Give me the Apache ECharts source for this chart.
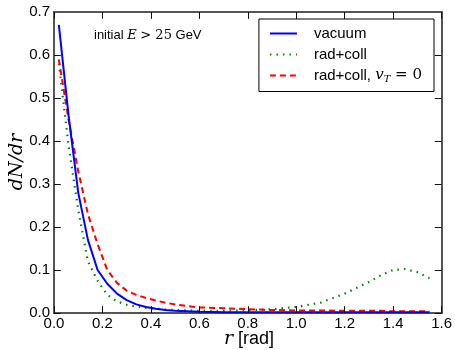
<!DOCTYPE html>
<html><head><meta charset="utf-8">
<script src="https://cdn.jsdelivr.net/npm/echarts@6/dist/echarts.min.js"></script>
<style>html,body{margin:0;padding:0;background:#fff}#c{width:455px;height:350px}</style>
</head><body><div id="c"></div>
<script>
const r = [0.02,0.06,0.10,0.14,0.18,0.22,0.26,0.30,0.34,0.38,0.42,0.46,0.50,0.55,0.60,0.70,0.80,0.90,1.00,1.10,1.20,1.30,1.35,1.40,1.45,1.50,1.55];
const vacuum = [0.67,0.46,0.28,0.17,0.10,0.068,0.045,0.030,0.020,0.014,0.010,0.007,0.005,0.004,0.003,0.002,0.002,0.002,0.002,0.002,0.002,0.002,0.002,0.002,0.002,0.002,0.002];
const radColl = [0.58,0.39,0.24,0.12,0.075,0.042,0.027,0.019,0.015,0.012,0.010,0.008,0.007,0.006,0.005,0.005,0.006,0.009,0.014,0.024,0.045,0.072,0.088,0.100,0.102,0.095,0.081];
const radCollV0 = [0.59,0.45,0.33,0.23,0.16,0.10,0.07,0.052,0.042,0.035,0.029,0.024,0.020,0.016,0.013,0.011,0.009,0.007,0.006,0.006,0.005,0.005,0.005,0.004,0.004,0.004,0.004];
const names = ['vacuum','rad+coll','rad+coll, vT=0'];
const xTicks = ['0.0','0.2','0.4','0.6','0.8','1.0','1.2','1.4','1.6'];
const yTicks = ['0.0','0.1','0.2','0.3','0.4','0.5','0.6','0.7'];

const pairs = a => r.map((x,i)=>[x,a[i]]);
const axisCol = '#555';
const font = 'Liberation Sans, Arial, sans-serif';
const chart = echarts.init(document.getElementById('c'));
function baseX(){ return {type:'value',min:0,max:1.6,interval:0.2,
  axisLine:{show:true,onZero:false,lineStyle:{color:axisCol,width:2}},
  axisTick:{show:false}, splitLine:{show:false}}; }
function baseY(){ return {type:'value',min:0,max:0.7,interval:0.1,
  axisLine:{show:true,onZero:false,lineStyle:{color:axisCol,width:2}},
  axisTick:{show:false}, splitLine:{show:false}}; }
// inward tick marks, expressed in data units so the chart's own scales place them
const tx = 0.028, ty = 0.016;
const tickLines = [];
xTicks.forEach((t,i)=>{ const v=i*0.2;
  tickLines.push([{coord:[v,0]},{coord:[v,ty]}]);
  tickLines.push([{coord:[v,0.7]},{coord:[v,0.7-ty]}]); });
yTicks.forEach((t,i)=>{ const v=i*0.1;
  tickLines.push([{coord:[0,v]},{coord:[tx,v]}]);
  tickLines.push([{coord:[1.6,v]},{coord:[1.6-tx,v]}]); });
chart.setOption({
  animation:false,
  backgroundColor:'#fff',
  grid:{left:54,right:12,top:12,bottom:37},
  xAxis:[
    Object.assign(baseX(),{position:'bottom',axisLabel:{color:'#000',fontSize:15,fontFamily:font,margin:3,formatter:v=>xTicks[Math.round(v/0.2)]}}),
    Object.assign(baseX(),{position:'top',axisLabel:{show:false}})
  ],
  yAxis:[
    Object.assign(baseY(),{position:'left',axisLabel:{color:'#000',fontSize:15,fontFamily:font,margin:4,formatter:v=>yTicks[Math.round(v/0.1)]}}),
    Object.assign(baseY(),{position:'right',axisLabel:{show:false}})
  ],
  legend:{
    right:21,top:19,orient:'vertical',
    backgroundColor:'#fff',borderColor:'#000',borderWidth:1,borderRadius:0,
    padding:[7,12,7,10],itemGap:6,itemWidth:27,itemHeight:14,
    itemStyle:{opacity:0},
    textStyle:{fontSize:15,fontFamily:font,color:'#000',padding:[0,0,0,12],
      rich:{i:{fontStyle:'italic',fontFamily:'DejaVu Serif, serif',fontSize:15},
            s:{fontStyle:'italic',fontFamily:'DejaVu Serif, serif',fontSize:10,padding:[8,0,0,0]},
            n:{fontFamily:'DejaVu Serif, serif',fontSize:15}}},
    formatter:n=> n==='rad+coll, vT=0' ? 'rad+coll, {i|v}{s|T}{n| = 0}' : n,
    data:names.map(n=>({name:n}))
  },
  graphic:[
    {type:'text',left:94,top:29,style:{text:'initial {i|E} {n|> 25} GeV',fontSize:13,fontFamily:font,fill:'#000',
      rich:{i:{fontStyle:'italic',fontFamily:'DejaVu Serif, serif',fontSize:13},n:{fontFamily:'DejaVu Serif, serif',fontSize:13}}}},
    {type:'text',x:17,y:162,rotation:Math.PI/2,style:{text:'dN/dr',fontSize:19,fontStyle:'italic',fontFamily:'DejaVu Serif, serif',fill:'#000',align:'center',verticalAlign:'middle'}},
    {type:'text',x:249,y:339,style:{text:'{i|r} [rad]',fontSize:18,fontFamily:font,fill:'#000',align:'center',verticalAlign:'middle',
      rich:{i:{fontStyle:'italic',fontFamily:'DejaVu Serif, serif',fontSize:19}}}}
  ],
  series:[
    {name:names[0],type:'line',data:pairs(vacuum),symbol:'none',lineStyle:{color:'#0000ff',width:2},itemStyle:{color:'#0000ff'},z:3,
      markLine:{silent:true,symbol:['none','none'],label:{show:false},animation:false,
        lineStyle:{color:'#111',width:1,type:'solid'},emphasis:{disabled:true},data:tickLines}},
    {name:names[1],type:'line',data:pairs(radColl),symbol:'none',lineStyle:{color:'#008000',width:2.2,type:[1.5,5]},itemStyle:{color:'#008000'},z:2},
    {name:names[2],type:'line',data:pairs(radCollV0),symbol:'none',lineStyle:{color:'#ff0000',width:2,type:[6,4]},itemStyle:{color:'#ff0000'},z:2}
  ]
});
</script></body></html>
